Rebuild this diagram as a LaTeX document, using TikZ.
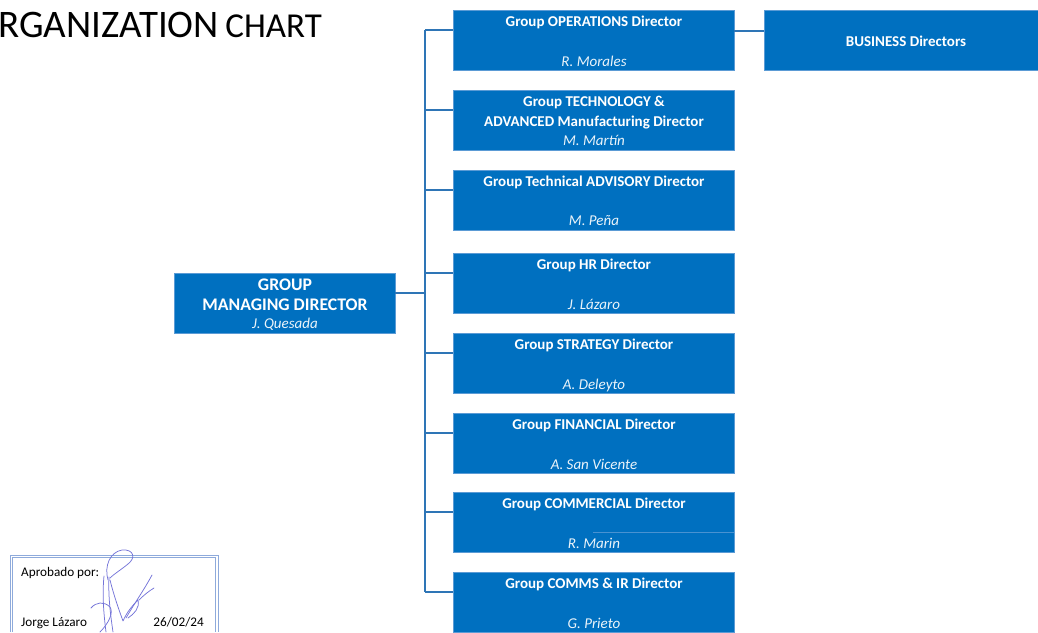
\documentclass[tikz,border=0pt]{standalone}
\usepackage{fontspec}
\setmainfont{Carlito}
\usetikzlibrary{calc}
\definecolor{boxblue}{HTML}{0070C0}
\definecolor{boxedge}{HTML}{5B9BD5}
\definecolor{linkblue}{HTML}{2E75B6}
\definecolor{sigblue}{HTML}{7474D8}
\definecolor{frameblue}{HTML}{8EAADB}
\tikzset{
  x={(1pt,0)}, y={(0,-1pt)},
  dirbox/.style={draw=boxedge, fill=boxblue, line width=0.8pt, minimum width=281pt, minimum height=60pt, inner sep=0pt, outer sep=0pt},
  gmdbox/.style={draw=boxedge, fill=boxblue, line width=0.8pt, minimum width=221pt, minimum height=60pt, inner sep=0pt, outer sep=0pt},
  bizbox/.style={draw=boxedge, fill=boxblue, line width=0.8pt, minimum width=276pt, minimum height=60pt, inner sep=0pt, outer sep=0pt},
  role/.style={anchor=base, text=white, font=\fontsize{15pt}{18pt}\selectfont\bfseries, inner sep=0pt},
  person/.style={anchor=base, text=white!92!boxblue, font=\fontsize{15pt}{18pt}\selectfont\itshape, inner sep=0pt},
  link/.style={draw=linkblue, line width=1.1pt},
  sigtext/.style={font=\fontsize{13.2pt}{15pt}\selectfont, text=black, inner sep=0pt},
  sig/.style={draw=sigblue, line width=0.75pt, line cap=round, line join=round}
}
\begin{document}
\begin{tikzpicture}
\useasboundingbox (0,0) rectangle (1038,632);
% title
\node[anchor=base east, inner sep=0pt] (title) at (322,37)
  {\fontsize{39pt}{44pt}\selectfont ORGANIZATION\,\fontsize{35pt}{40pt}\selectfont CHART};

% director boxes
\foreach \n/\t in {b1/10,b2/90,b3/170,b4/253,b5/333,b6/413,b7/492,b8/572}{
  \node[dirbox, anchor=north west] (\n) at (453,\t) {};
  \coordinate (\n c) at (453,\t+20);
  \coordinate (\n t) at (425,\t+20);
}
\node[role] (r1) at (594,26) {Group OPERATIONS Director};
\node[person] (p1) at (594,66) {R. Morales};
\node[role] (r2a) at (594,106) {Group TECHNOLOGY \&};
\node[role] (r2b) at (594,126) {ADVANCED Manufacturing Director};
\node[person] (p2) at (594,145) {M. Martín};
\node[role] (r3) at (594,186) {Group Technical ADVISORY Director};
\node[person] (p3) at (594,225) {M. Peña};
\node[role] (r4) at (594,269) {Group HR Director};
\node[person] (p4) at (594,309) {J. Lázaro};
\node[role] (r5) at (594,349) {Group STRATEGY Director};
\node[person] (p5) at (594,389) {A. Deleyto};
\node[role] (r6) at (594,429) {Group FINANCIAL Director};
\node[person] (p6) at (594,469) {A. San Vicente};
\node[role] (r7) at (594,508) {Group COMMERCIAL Director};
\node[person] (p7) at (594,548) {R. Marin};
\node[role] (r8) at (594,588) {Group COMMS \& IR Director};
\node[person] (p8) at (594,628) {G. Prieto};
% faint inner line in commercial box
\draw[draw=boxedge!80!boxblue, line width=0.5pt] (593,532.5) -- (b7.east |- 0,532.5);

% business box
\node[bizbox, anchor=north west] (biz) at (764,10) {};
\node[role] (bizt) at (906,46) {BUSINESS Directors};
\coordinate (bizc) at (764,31);
\coordinate (b1e) at (734,31);

% managing director
\node[gmdbox, anchor=north west] (gmd) at (174,273) {};
\node[role, font=\fontsize{17.7pt}{20pt}\selectfont\bfseries] (gmd1) at (285,290) {GROUP};
\node[role, font=\fontsize{17.7pt}{20pt}\selectfont\bfseries] (gmd2) at (285,310) {MANAGING DIRECTOR};
\node[person] (gmdp) at (285,328) {J. Quesada};
\coordinate (gmdc) at (395,293);
\coordinate (gmdt) at (425,293);

% connectors
\draw[link] (b1t) -- (b8t);
\draw[link] (gmdc) -- (gmdt);
\foreach \n in {b1,b2,b3,b4,b5,b6,b7,b8}{
  \draw[link] (\n t) -- (\n c);
}
\draw[link] (b1e) -- (bizc);

% approval box
\draw[draw=frameblue, line width=0.6pt] (10,632) -- (10,555) -- (218,555) -- (218,632);
\draw[draw=frameblue, line width=0.6pt] (12.5,632) -- (12.5,557.5) -- (215.5,557.5) -- (215.5,632);
\node[sigtext, anchor=base west] (apr) at (21,576) {Aprobado por:};
\node[sigtext, anchor=base west] (jl) at (21,626) {Jorge Lázaro};
\node[sigtext, anchor=base east] (date) at (204,626) {26/02/24};
% signature
% loop at the top
\draw[sig] (108,580) .. controls (104,566) and (110,552) .. (122,550)
  .. controls (134,549) and (136,558) .. (128,564)
  .. controls (122,569) and (114,574) .. (110,578);
% two long down-strokes
\draw[sig] (104,576) .. controls (102,596) and (104,616) .. (106,632);
\draw[sig] (109,577) .. controls (108,598) and (111,618) .. (113,632);
% diagonal down into the V and back up
\draw[sig] (110,580) .. controls (114,596) and (119,610) .. (123,621)
  .. controls (127,612) and (132,606) .. (138,600)
  .. controls (140,608) and (134,614) .. (128,618);
% long rising stroke to the right
\draw[sig] (126,618) .. controls (134,604) and (144,590) .. (152,575);
% right hook
\draw[sig] (139,600) .. controls (144,595) and (149,591) .. (154,588);
% lower-left swash
\draw[sig] (91,608) .. controls (96,602) and (104,601) .. (110,607)
  .. controls (114,613) and (108,624) .. (100,632);
\end{tikzpicture}
\end{document}
